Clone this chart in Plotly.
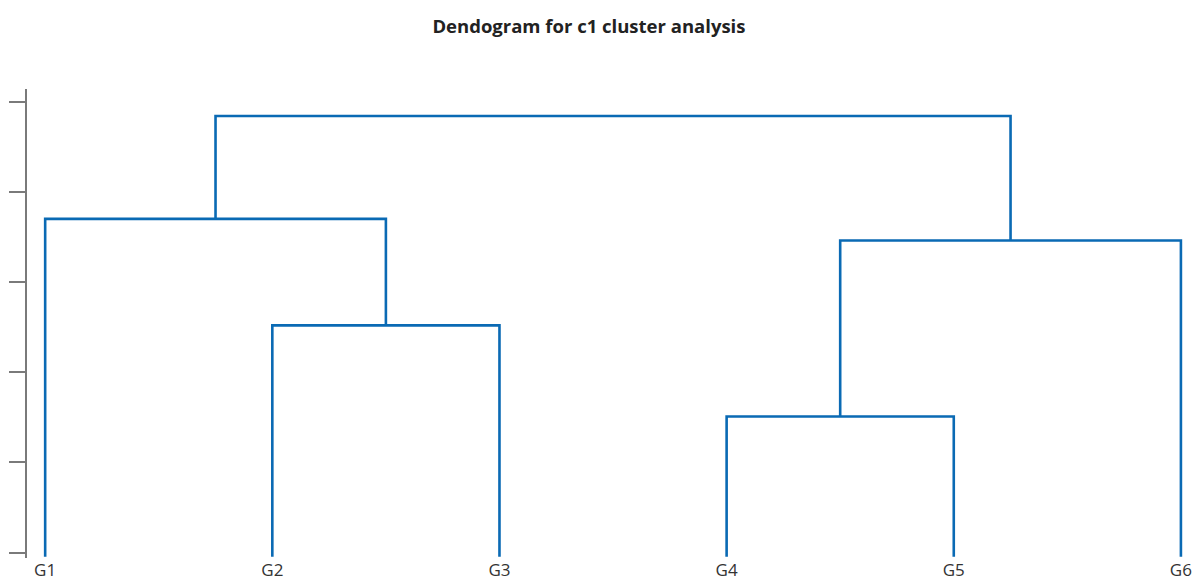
import plotly.graph_objects as go

# ---- data ----
leaf_labels = ["G1", "G2", "G3", "G4", "G5", "G6"]
# merges: (left member, right member, merge height)
merge_left = ["G2", "G4", "G1", "C45", "C123"]
merge_right = ["G3", "G5", "C23", "G6", "C456"]
merge_names = ["C23", "C45", "C123", "C456", "C_all"]
merge_heights = [2.52, 1.51, 3.70, 3.46, 4.84]
tick_vals = [0, 1, 2, 3, 4, 5]

LEAF_BASE = -0.045
LINE_COLOR = "#0a6ab4"
FONT = "Open Sans, Noto Sans, sans-serif"

# positions and heights of nodes
node_x = {lab: i for i, lab in enumerate(leaf_labels)}
node_h = {lab: LEAF_BASE for lab in leaf_labels}

fig = go.Figure()
for l, r, name, h in zip(merge_left, merge_right, merge_names, merge_heights):
    xl, xr = node_x[l], node_x[r]
    hl, hr = node_h[l], node_h[r]
    fig.add_trace(go.Scatter(
        x=[xl, xl, xr, xr], y=[hl, h, h, hr],
        mode="lines", line=dict(color=LINE_COLOR, width=2.6),
        hoverinfo="skip", showlegend=False,
    ))
    node_x[name] = (xl + xr) / 2
    node_h[name] = h

fig.update_layout(
    width=1197, height=581,
    paper_bgcolor="white", plot_bgcolor="white",
    margin=dict(l=27, r=7, t=89, b=23, autoexpand=False),
    font=dict(family=FONT, color="#222"),
    title=dict(
        text="<b>Dendogram for c1 cluster analysis</b>",
        x=0.492, xref="container", xanchor="center",
        y=1 - 27 / 581, yref="container", yanchor="middle",
        font=dict(size=18.5, color="#222", family=FONT),
    ),
    xaxis=dict(
        range=[-0.08, 5.04], showline=False, showgrid=False, zeroline=False,
        tickvals=list(range(len(leaf_labels))), ticktext=leaf_labels,
        ticks="", tickfont=dict(size=17, color="#333", family=FONT),
        fixedrange=True, automargin=False,
    ),
    yaxis=dict(
        range=[-0.059, 5.14], showline=True, linecolor="#7a7a7a", linewidth=1.5,
        showgrid=False, zeroline=False, ticks="outside", ticklen=16,
        tickcolor="#7a7a7a", tickwidth=1.5, tickvals=tick_vals,
        showticklabels=False, fixedrange=True, automargin=False,
    ),
)

fig.write_html(
    "out.html",
    config={"displayModeBar": False},
    post_script="document.body.style.margin='0';document.body.style.padding='0';",
)
